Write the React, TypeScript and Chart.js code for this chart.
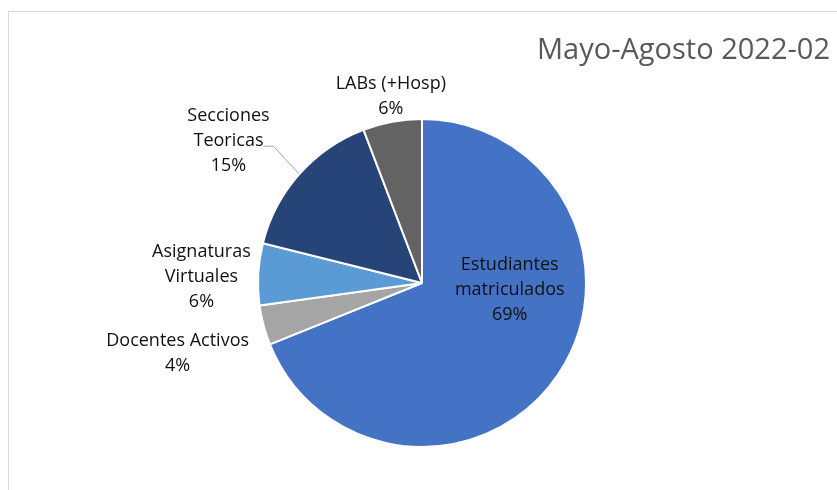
import React, { useEffect, useRef } from "react";
import { Chart, registerables } from "chart.js";

Chart.register(...registerables);

const categories = [
  "Estudiantes matriculados",
  "Docentes Activos",
  "Asignaturas Virtuales",
  "Secciones Teoricas",
  "LABs (+Hosp)",
];
const labelLines = [
  ["Estudiantes", "matriculados"],
  ["Docentes Activos"],
  ["Asignaturas", "Virtuales"],
  ["Secciones", "Teoricas"],
  ["LABs (+Hosp)"],
];
const values = [68.9, 3.9, 6.1, 15.3, 5.8];
const sliceColors = ["#4472C4", "#A5A5A5", "#5B9BD5", "#264478", "#636363"];
const chartTitle = "Mayo-Agosto 2022-02";

// label block centre, as a fraction of the outer radius from the pie centre
const labelOffsets = [
  [0.535, 0.042],
  [-1.49, 0.43],
  [-1.345, -0.036],
  [-1.18, -0.865],
  [-0.19, -1.14],
];
const leaderFor = [false, false, false, true, false];

const FONT = '"Open Sans", "Noto Sans", sans-serif';

const decorPlugin = {
  id: "decor",
  beforeDraw(chart: any) {
    const ctx = chart.ctx;
    ctx.save();
    ctx.fillStyle = "#ffffff";
    ctx.fillRect(0, 0, chart.width, chart.height);
    ctx.strokeStyle = "#d9d9d9";
    ctx.lineWidth = 1;
    ctx.beginPath();
    ctx.moveTo(8.5, chart.height);
    ctx.lineTo(8.5, 11.5);
    ctx.lineTo(chart.width, 11.5);
    ctx.stroke();
    ctx.restore();
  },
  afterDatasetsDraw(chart: any) {
    const ctx = chart.ctx;
    const meta = chart.getDatasetMeta(0);
    const data = chart.data.datasets[0].data as number[];
    const total = data.reduce((a, b) => a + b, 0);
    ctx.save();
    // title
    ctx.font = `29px ${FONT}`;
    ctx.fillStyle = "#595959";
    ctx.textAlign = "right";
    ctx.textBaseline = "alphabetic";
    ctx.fillText(chartTitle, 830, 59);

    ctx.font = `18px ${FONT}`;
    ctx.textAlign = "center";
    ctx.textBaseline = "middle";
    const lh = 25;
    meta.data.forEach((arc: any, i: number) => {
      const p = arc.getProps(["x", "y", "outerRadius", "startAngle", "endAngle"], true);
      const r = p.outerRadius;
      const lines = [...labelLines[i], Math.round((data[i] / total) * 100) + "%"];
      const cx = p.x + labelOffsets[i][0] * r;
      const cy = p.y + labelOffsets[i][1] * r;
      const y0 = cy - ((lines.length - 1) * lh) / 2;
      if (leaderFor[i]) {
        const mid = (p.startAngle + p.endAngle) / 2;
        const ex = p.x + Math.cos(mid) * r;
        const ey = p.y + Math.sin(mid) * r;
        const w1 = ctx.measureText(lines[1]).width;
        const lx = cx + w1 / 2;
        const ly = y0 + lh + 5;
        ctx.strokeStyle = "#a6a6a6";
        ctx.lineWidth = 1;
        ctx.beginPath();
        ctx.moveTo(ex, ey);
        ctx.lineTo(lx + 10, ly);
        ctx.lineTo(lx, ly);
        ctx.stroke();
      }
      ctx.fillStyle = "#111111";
      lines.forEach((t, k) => ctx.fillText(t, cx, y0 + k * lh));
    });
    ctx.restore();
  },
};

export default function App() {
  const ref = useRef<HTMLCanvasElement | null>(null);
  useEffect(() => {
    if (!ref.current) return;
    const chart = new Chart(ref.current, {
      type: "pie",
      data: {
        labels: categories,
        datasets: [
          {
            data: values,
            backgroundColor: sliceColors,
            borderColor: "#ffffff",
            borderWidth: 2,
            hoverOffset: 0,
          },
        ],
      },
      options: {
        responsive: false,
        animation: false,
        events: [],
        layout: { padding: { left: 256, right: 249, top: 118, bottom: 42 } },
        plugins: {
          legend: { display: false },
          tooltip: { enabled: false },
          title: { display: false },
        },
      },
      plugins: [decorPlugin],
    });
    return () => chart.destroy();
  }, []);
  return (
    <div style={{ position: "fixed", left: 0, top: 0, width: 837, height: 490, background: "#fff" }}>
      <canvas ref={ref} width={837} height={490} style={{ width: 837, height: 490, display: "block" }} />
    </div>
  );
}
